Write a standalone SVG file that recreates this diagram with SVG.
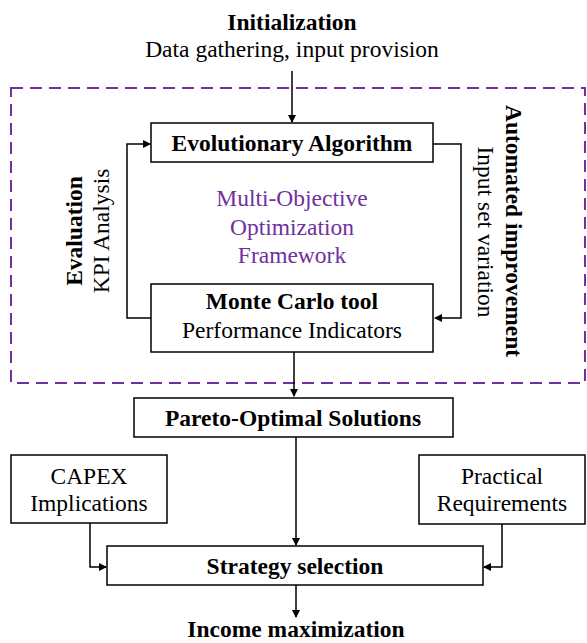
<svg xmlns="http://www.w3.org/2000/svg" width="587" height="643" viewBox="0 0 587 643">
<style>
text{font-family:"Liberation Serif","Times New Roman",serif;fill:#000;}
.b{font-weight:bold;font-size:23.5px;}
.n{font-size:23.5px;}
.p{fill:#7030A0;font-size:23.5px;}
.box{fill:#fff;stroke:#000;stroke-width:1.5;}
.c{fill:none;stroke:#000;stroke-width:1.5;}
</style>
<defs>
<marker id="ah" markerWidth="8" markerHeight="8" refX="7" refY="4" orient="auto" markerUnits="userSpaceOnUse">
<path d="M0,0 L8,4 L0,8 Z" fill="#000"/>
</marker>
</defs>
<rect x="11" y="88" width="574" height="295" fill="none" stroke="#7030A0" stroke-width="2" stroke-dasharray="12,7"/>
<g id="connectors">
<path class="c" d="M292,71 V122" marker-end="url(#ah)"/>
<path class="c" d="M151,318 H127 V144 H150" marker-end="url(#ah)"/>
<path class="c" d="M433,144 H461 V318 H435" marker-end="url(#ah)"/>
<path class="c" d="M294,352 V396" marker-end="url(#ah)"/>
<path class="c" d="M296,437 V545" marker-end="url(#ah)"/>
<path class="c" d="M90,523 V567 H106" marker-end="url(#ah)"/>
<path class="c" d="M502,524 V567 H484" marker-end="url(#ah)"/>
<path class="c" d="M296,585 V617" marker-end="url(#ah)"/>
</g>
<g id="init">
<text class="b" x="292" y="30" text-anchor="middle">Initialization</text>
<text class="n" x="292" y="57" text-anchor="middle">Data gathering,  input provision</text>
</g>
<g id="ea">
<rect class="box" x="151" y="123" width="282" height="39"/>
<text class="b" x="292" y="151" text-anchor="middle">Evolutionary Algorithm</text>
</g>
<g id="framework">
<text class="p" x="292" y="206" text-anchor="middle">Multi-Objective</text>
<text class="p" x="292" y="235" text-anchor="middle">Optimization</text>
<text class="p" x="292" y="263" text-anchor="middle">Framework</text>
</g>
<g id="mc">
<rect class="box" x="151" y="284" width="282" height="68"/>
<text class="b" x="292" y="309" text-anchor="middle">Monte Carlo tool</text>
<text class="n" x="292" y="338" text-anchor="middle">Performance  Indicators</text>
</g>
<g id="evaluation">
<text class="b" transform="translate(82,231) rotate(-90)" text-anchor="middle">Evaluation</text>
<text class="n" transform="translate(109,231) rotate(-90)" text-anchor="middle">KPI Analysis</text>
</g>
<g id="automated">
<text class="b" transform="translate(506,231) rotate(90)" text-anchor="middle">Automated improvement</text>
<text class="n" transform="translate(478,232) rotate(90)" text-anchor="middle">Input set variation</text>
</g>
<g id="pareto">
<rect class="box" x="134" y="398" width="319" height="39"/>
<text class="b" x="293" y="426" text-anchor="middle">Pareto-Optimal Solutions</text>
</g>
<g id="capex">
<rect class="box" x="11" y="455" width="156" height="68"/>
<text class="n" x="89" y="484" text-anchor="middle">CAPEX</text>
<text class="n" x="89" y="511" text-anchor="middle">Implications</text>
</g>
<g id="practical">
<rect class="box" x="419" y="455" width="166" height="69"/>
<text class="n" x="502" y="484" text-anchor="middle">Practical</text>
<text class="n" x="502" y="511" text-anchor="middle">Requirements</text>
</g>
<g id="strategy">
<rect class="box" x="107" y="546" width="376" height="39"/>
<text class="b" x="295" y="574" text-anchor="middle">Strategy selection</text>
</g>
<g id="income">
<text class="b" x="296" y="637" text-anchor="middle">Income maximization</text>
</g>
</svg>
